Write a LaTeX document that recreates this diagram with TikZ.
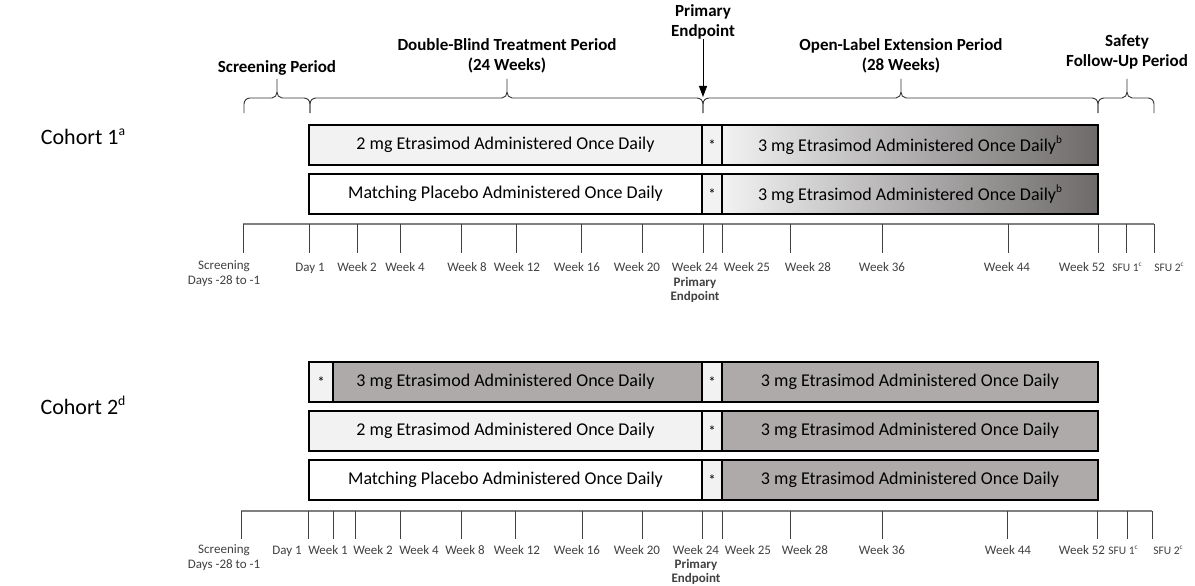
\documentclass[tikz,border=0pt]{standalone}
\usepackage{fontspec}
\setmainfont{Carlito}
\usetikzlibrary{positioning,arrows.meta}
\definecolor{lightfill}{HTML}{F2F2F2}
\definecolor{etragrey}{HTML}{AEAAAA}
\definecolor{graddark}{HTML}{6E6A6A}
\definecolor{axisgrey}{HTML}{808080}
\definecolor{labelgrey}{HTML}{404040}
% footnote letters
\newcommand{\fnmark}[1]{\raisebox{.42em}{\scalebox{.62}{#1}}}
% period bracket: left end, tip, right end
\newcommand{\pbrace}[3]{%
  \draw[bracket] (#1,113) -- (#1,104) to[out=90,in=180] (#1+6,98) -- (#2-5,98)
    to[out=0,in=-90] (#2,92) -- (#2,79) (#2,92) to[out=-90,in=180] (#2+5,98)
    -- (#3-6,98) to[out=0,in=90] (#3,104) -- (#3,113);}

\begin{document}
\begin{tikzpicture}[x=1pt,y=-1pt,% one unit = one pixel of the layout
    every node/.style={
      align=center,   % so that "\\" breaks the line
      inner sep=0pt,
      outer sep=0pt   % cells share their borders
    },
    hdr/.style={font=\fontsize{17}{19.5}\selectfont\bfseries},
    cohort/.style={font=\fontsize{22}{26}\selectfont},
    bar/.style={draw=black,line width=1.6pt,minimum height=40pt,anchor=north west,
      font=\fontsize{18}{20}\selectfont},
    star/.style={bar,minimum width=20pt,fill=lightfill,font=\fontsize{15}{17}\selectfont},
    bracket/.style={draw=black!80,line width=0.9pt},
    axis/.style={draw=axisgrey,line width=1.6pt},
    tick/.style={draw=black!75,line width=0.9pt},
    wk/.style={font=\fontsize{13}{15}\selectfont,text=labelgrey,anchor=base},
    sfu/.style={font=\fontsize{11.5}{14}\selectfont,text=labelgrey,anchor=base},
    pe/.style={font=\fontsize{13}{14}\selectfont\bfseries,text=labelgrey,anchor=north}
  ]
  \useasboundingbox (0,0) rectangle (1195,586);

  % period headers
  \node[hdr](pehdr) at (703,22){Primary\\Endpoint};
  \node[hdr](scrhdr) at (277,68){Screening Period};
  \node[hdr](dbhdr) at (507,56){Double-Blind Treatment Period\\(24 Weeks)};
  \node[hdr](olhdr) at (901,56){Open-Label Extension Period\\(28 Weeks)};
  \node[hdr](sfhdr) at (1127,52){Safety\\Follow-Up Period};
  \coordinate (pejoin) at (703,97);
  \draw[-{Triangle[length=11pt,width=8pt]},line width=0.9pt] (pehdr) -- (pejoin);
  \pbrace{244}{277}{310}
  \pbrace{310}{507}{703}
  \pbrace{703}{901}{1098}
  \pbrace{1098}{1127}{1154}

  % cohort 1
  \node[cohort](coh1) at (83,137){Cohort 1\fnmark{a}};
  \node[bar,fill=lightfill,minimum width=393pt](c1top) at (309,125){2 mg Etrasimod Administered Once Daily};
  \node[star](c1topstar)[right=0pt of c1top]{*};
  \node[bar,left color=lightfill,right color=graddark,minimum width=376pt](c1topext)[right=0pt of c1topstar]{3 mg Etrasimod Administered Once Daily\fnmark{b}};
  \node[bar,fill=white,minimum width=393pt](c1pbo) at (309,174){Matching Placebo Administered Once Daily};
  \node[star](c1pbostar)[right=0pt of c1pbo]{*};
  \node[bar,left color=lightfill,right color=graddark,minimum width=376pt](c1pboext)[right=0pt of c1pbostar]{3 mg Etrasimod Administered Once Daily\fnmark{b}};

  % cohort 1 visits
  \draw[axis] (243,224) -- (1154,224);
  \draw[tick] (243,224) -- (243,253);
  \node[wk,anchor=north](c1scr) at (224,261){Screening\\Days -28 to -1};
  \foreach \t/\l/\s in {309/310/Day 1,357/357/Week 2,400/405/Week 4,461/467/Week 8,
      516/517/Week 12,581/577/Week 16,642/637/Week 20,703/695/Week 24,722/747/Week 25,
      790/808/Week 28,882/882/Week 36,1008/1007/Week 44,1098/1082/Week 52}{
    \draw[tick] (\t,224) -- (\t,253);
    \node[wk](c1v\t) at (\l,271){\s};
  }
  \draw[tick] (1126,224) -- (1126,253);
  \draw[tick] (1154,224) -- (1154,253);
  \node[sfu](c1sfu1) at (1127,271){SFU 1\fnmark{c}};
  \node[sfu](c1sfu2) at (1169,271){SFU 2\fnmark{c}};
  \node[pe](c1pe) at (695,277){Primary\\Endpoint};

  % cohort 2
  \node[cohort](coh2) at (83,405){Cohort 2\fnmark{d}};
  \node[bar,fill=etragrey,minimum width=393pt](c2hi) at (309,362){3 mg Etrasimod Administered Once Daily};
  \node[star,minimum width=24pt](c2hiwk1) at (309,362){*};
  \node[star](c2histar)[right=0pt of c2hi]{*};
  \node[bar,fill=etragrey,minimum width=376pt](c2hiext)[right=0pt of c2histar]{3 mg Etrasimod Administered Once Daily};
  \node[bar,fill=lightfill,minimum width=393pt](c2lo) at (309,411){2 mg Etrasimod Administered Once Daily};
  \node[star](c2lostar)[right=0pt of c2lo]{*};
  \node[bar,fill=etragrey,minimum width=376pt](c2loext)[right=0pt of c2lostar]{3 mg Etrasimod Administered Once Daily};
  \node[bar,fill=white,minimum width=393pt](c2pbo) at (309,460){Matching Placebo Administered Once Daily};
  \node[star](c2pbostar)[right=0pt of c2pbo]{*};
  \node[bar,fill=etragrey,minimum width=376pt](c2pboext)[right=0pt of c2pbostar]{3 mg Etrasimod Administered Once Daily};

  % cohort 2 visits
  \draw[axis] (241,511) -- (1152,511);
  \draw[tick] (241,511) -- (241,539);
  \node[wk,anchor=north](c2scr) at (224,545){Screening\\Days -28 to -1};
  \foreach \t/\l/\s in {308/287/Day 1,333/328/Week 1,355/373/Week 2,400/419/Week 4,
      461/465/Week 8,515/517/Week 12,582/577/Week 16,642/637/Week 20,702/696/Week 24,
      722/748/Week 25,790/805/Week 28,882/882/Week 36,1007/1008/Week 44,1097/1082/Week 52}{
    \draw[tick] (\t,511) -- (\t,539);
    \node[wk](c2v\t) at (\l,554){\s};
  }
  \draw[tick] (1127,511) -- (1127,539);
  \draw[tick] (1152,511) -- (1152,539);
  \node[sfu](c2sfu1) at (1123,554){SFU 1\fnmark{c}};
  \node[sfu](c2sfu2) at (1168,554){SFU 2\fnmark{c}};
  \node[pe](c2pe) at (696,559){Primary\\Endpoint};
\end{tikzpicture}
\end{document}
